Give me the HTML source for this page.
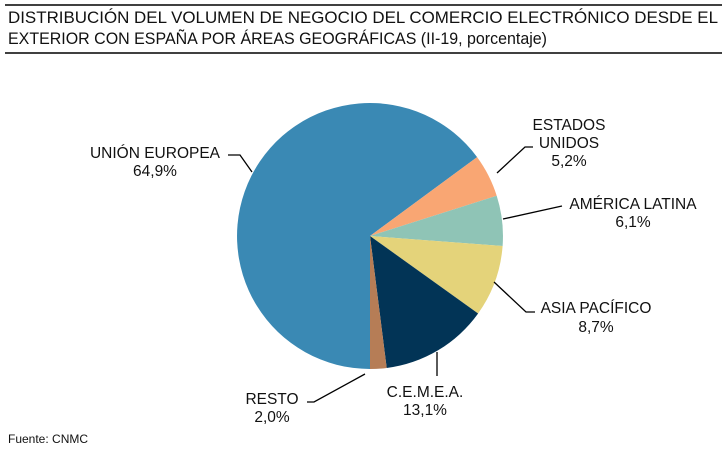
<!DOCTYPE html>
<html><head><meta charset="utf-8"><style>
html,body{margin:0;padding:0;background:#fff;}
svg{display:block;font-family:"Liberation Sans",Arial,sans-serif;}
</style></head><body>
<svg width="728" height="458" viewBox="0 0 728 458" xmlns="http://www.w3.org/2000/svg">
<line x1="5" y1="5" x2="722" y2="5" stroke="#000" stroke-width="1.5"/>
<line x1="5" y1="53" x2="722" y2="53" stroke="#000" stroke-width="1.5"/>
<g font-family="'Liberation Sans Narrow','Liberation Sans',sans-serif" font-size="16.5" fill="#111">
<text x="8" y="23" textLength="710" lengthAdjust="spacingAndGlyphs">DISTRIBUCIÓN DEL VOLUMEN DE NEGOCIO DEL COMERCIO ELECTRÓNICO DESDE EL</text>
<text x="8" y="44" textLength="539" lengthAdjust="spacingAndGlyphs">EXTERIOR CON ESPAÑA POR ÁREAS GEOGRÁFICAS (II-19, porcentaje)</text>
</g>
<g stroke="none">
<path d="M370,236 L370,369 A133,133 0 1 1 477.1,157.1 Z" fill="#3a89b4"/>
<path d="M370,236 L477.1,157.1 A133,133 0 0 1 496.7,195.7 Z" fill="#f9a673"/>
<path d="M370,236 L496.7,195.7 A133,133 0 0 1 502.6,246.0 Z" fill="#8fc4b6"/>
<path d="M370,236 L502.6,246.0 A133,133 0 0 1 478.1,313.5 Z" fill="#e4d37a"/>
<path d="M370,236 L478.1,313.5 A133,133 0 0 1 386.7,368.0 Z" fill="#023456"/>
<path d="M370,236 L386.7,368.0 A133,133 0 0 1 370,369 Z" fill="#b67d56"/>
</g>
<g stroke="#000" stroke-width="1.3" fill="none">
<polyline points="228,155 240,155 252,172"/>
<polyline points="533,147 525,147 497,173"/>
<polyline points="562,206 503,219"/>
<polyline points="535,312 526,312 494,282"/>
<polyline points="437,352 437,376"/>
<polyline points="307,402 314,402 365,374"/>
</g>
<g font-size="15.5" fill="#111" text-anchor="middle">
<text x="155" y="158">UNIÓN EUROPEA</text>
<text x="155" y="176">64,9%</text>
<text x="569" y="130">ESTADOS</text>
<text x="569" y="148">UNIDOS</text>
<text x="569" y="166">5,2%</text>
<text x="633" y="209">AMÉRICA LATINA</text>
<text x="633" y="227">6,1%</text>
<text x="596" y="313">ASIA PACÍFICO</text>
<text x="596" y="332">8,7%</text>
<text x="425" y="397">C.E.M.E.A.</text>
<text x="425" y="415">13,1%</text>
<text x="272" y="404">RESTO</text>
<text x="272" y="422">2,0%</text>
</g>
<text x="8" y="443" font-size="12" fill="#111">Fuente: CNMC</text>
</svg>
</body></html>
